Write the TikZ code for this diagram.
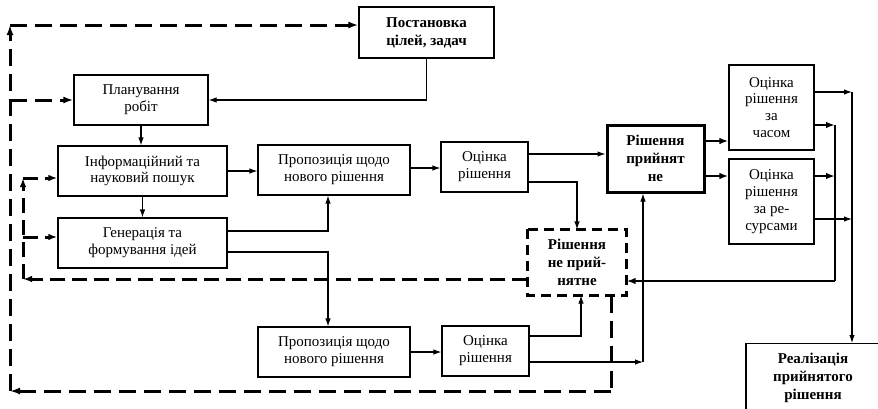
\documentclass[tikz,border=0pt]{standalone}
\usepackage{fontspec}
\setmainfont{Liberation Serif}
\usetikzlibrary{arrows.meta}
\begin{document}
\begin{tikzpicture}[x=1pt,y=-1pt,
  box/.style={draw,line width=1.1pt,inner sep=0pt,align=center,font=\fontsize{15}{16.8}\selectfont},
  bbox/.style={box,font=\fontsize{15}{18}\selectfont\bfseries},
  thin/.style={line width=1.1pt,-{Latex[length=8pt,width=5.5pt]}},
  thk/.style={line width=2.8pt,-{Latex[length=9pt,width=6.5pt]}},
  thkl/.style={line width=2.8pt},
  dsh/.style={line width=3pt,dash pattern=on 17pt off 8pt,-{Latex[length=10pt,width=7pt]}},
  dshl/.style={line width=3pt,dash pattern=on 17pt off 8pt},
  dsi/.style={line width=3pt,dash pattern=on 15pt off 7pt,-{Latex[length=9pt,width=6.5pt]}}]
\useasboundingbox (0,0) rectangle (878,408);
\clip (0,0) rectangle (878,408);
% boxes
\node[bbox,minimum width=135,minimum height=51] (post) at (426.5,32.5) {Постановка\\цілей, задач};
\node[box,minimum width=134,minimum height=50] (plan) at (141,100) {Планування\\робіт};
\node[box,minimum width=169,minimum height=50] (info) at (142.5,171) {Інформаційний та\\науковий пошук};
\node[box,minimum width=169,minimum height=50] (gen) at (142.5,243) {Генерація та\\формування ідей};
\node[box,minimum width=152,minimum height=50] (prop1) at (334,170) {Пропозиція щодо\\нового рішення};
\node[box,minimum width=152,minimum height=50] (prop2) at (334,352) {Пропозиція щодо\\нового рішення};
\node[box,minimum width=87,minimum height=50] (oc1) at (484.5,167) {Оцінка\\рішення};
\node[box,minimum width=87,minimum height=50] (oc2) at (485.5,351) {Оцінка\\рішення};
\node[bbox,line width=3pt,minimum width=97,minimum height=67] (prin) at (655.5,158.5) {Рішення\\прийнят\\не};
\node[bbox,draw=none,minimum width=98,minimum height=65] (ne) at (577,262.5) {Рішення\\не прий-\\нятне};
\draw[line width=2.8pt,dash pattern=on 10pt off 6pt] (ne.north west) rectangle (ne.south east);
\node[box,minimum width=85,minimum height=85] (chas) at (771.5,107.5) {Оцінка\\рішення\\за\\часом};
\node[box,minimum width=85,minimum height=85] (res) at (771.5,201.5) {Оцінка\\рішення\\за ре-\\сурсами};
\node[box,minimum width=134,minimum height=70,anchor=north] (real) at (813,343) {};
\node[font=\fontsize{15}{18}\selectfont\bfseries,align=center,anchor=north,inner sep=0pt] (realt) at (813,353) {Реалізація\\прийнятого\\рішення};
% coordinates
\coordinate (bl) at (10,391);
\coordinate (tl) at (10,25);
\coordinate (il) at (23,279);
\coordinate (it) at (23,178);
\coordinate (jr) at (643,362);
\coordinate (vt) at (835,125);
\coordinate (vb) at (835,281);
\coordinate (wt) at (852,92);
\coordinate (wr) at (852,219);
% outer dashed loop
\draw[dshl] ([xshift=34pt]ne.south) -- (611,391);
\draw[dsh] (611,391) -- (bl);
\draw[dsh] (bl) -- (tl);
\draw[dsh] (tl) -- (post.west |- tl);
\draw[dsh] (10,100) -- (plan.west);
% inner dashed loop
\draw[dsi] (ne.west |- il) -- (il);
\draw[dsi] (il) -- (it);
\draw[dsi] (it) -- (info.west |- it);
\draw[dsi] (23,237) -- (gen.west |- 0,237);
% solid connectors
\draw[thin] (post.south) |- (plan.east);
\draw[thin] (plan.south) -- (plan.south |- info.north);
\draw[thin] (info.south) -- (info.south |- gen.north);
\draw[thin] (info.east) -- (info.east -| prop1.west);
\draw[thin] (gen.east |- 0,231) -| ([xshift=-6pt]prop1.south);
\draw[thin] (gen.east |- 0,252) -| ([xshift=-6pt]prop2.north);
\draw[thin] (prop1.east |- 0,168) -- (oc1.west |- 0,168);
\draw[thin] (prop2.east) -- (prop2.east -| oc2.west);
\draw[thin] (oc1.east |- 0,154) -- (prin.west |- 0,154);
\draw[thin] (oc1.east |- 0,182) -| (ne.north);
\draw[thin] (oc2.east |- 0,336) -| ([xshift=4pt]ne.south);
\draw[thin] (oc2.east |- jr) -- (jr);
\draw[thin] (jr) -- (prin.south -| jr);
\draw[thk] (prin.east |- 0,141) -- (chas.west |- 0,141);
\draw[thk] (prin.east |- 0,176) -- (res.west |- 0,176);
\draw[thin] (chas.east |- wt) -- (wt);
\draw[thk] (chas.east |- vt) -- (vt);
\draw[thk] (res.east |- 0,176) -- (835,176);
\draw[thin] (res.east |- wr) -- (wr);
\draw[thkl] (vt) -- (vb);
\draw[thk] (vb) -- (ne.east |- vb);
\draw[thin] (wt) -- (wt |- real.north);
\end{tikzpicture}
\end{document}
